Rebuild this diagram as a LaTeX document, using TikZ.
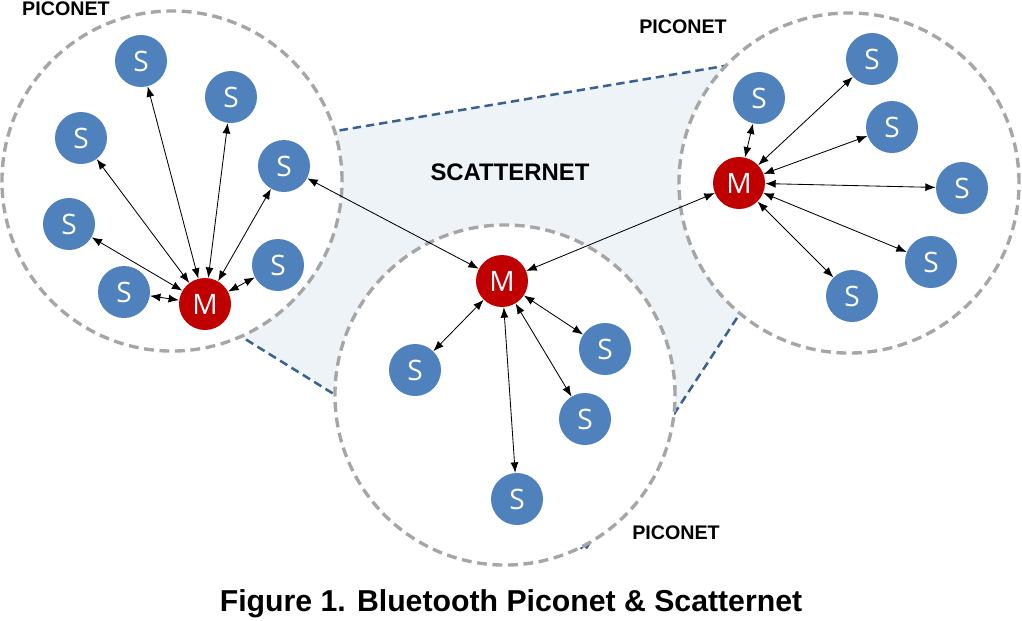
\documentclass[tikz,border=0pt]{standalone}
\usepackage{fontspec}
\setmainfont{Liberation Sans}
\newfontfamily\nodefont{Open Sans}
\usetikzlibrary{arrows.meta}
\definecolor{sblue}{HTML}{4F81BD}
\definecolor{mred}{HTML}{C00000}
\definecolor{ringgray}{HTML}{A6A6A6}
\definecolor{edgeblue}{HTML}{3B6193}
\definecolor{zonefill}{HTML}{EEF3F8}
\tikzset{
  slave/.style={circle,fill=sblue,text=white,minimum size=1.3cm,inner sep=0pt,
                font=\nodefont\fontsize{20}{24}\selectfont},
  master/.style={slave,fill=mred},
  link/.style={{Latex[length=2.6mm,width=2mm]}-{Latex[length=2.6mm,width=2mm]},line width=0.6pt},
  piconet/.style={circle,draw=ringgray,fill=white,line width=2.4pt,
                  dash pattern=on 7pt off 4pt,minimum size=8.5cm},
  zone/.style={draw=edgeblue,fill=zonefill,line width=1.8pt,dash pattern=on 6pt off 3.5pt},
  lbl/.style={font=\bfseries\fontsize{14}{16}\selectfont}
}

\begin{document}
\begin{tikzpicture}[x=0.025cm,y=-0.025cm]
  \useasboundingbox (0,0) rectangle (1022,620);

  % Scatternet area
  \draw[zone] (300,137) -- (760,60) -- (771,266) -- (585,550) -- (192,306) -- cycle;

  \node[piconet] (pleft) at (172,181) {};
  \node[piconet] (pmid) at (505,395) {};
  \node[piconet] (pright) at (849,183) {};

  \node[lbl] (tleft) at (66,9) {PICONET};
  \node[lbl] (tright) at (683,27) {PICONET};
  \node[lbl] (tmid) at (676,533) {PICONET};
  \node[font=\bfseries\fontsize{17}{20}\selectfont] (tscatter) at (510,172) {SCATTERNET};

  % Left piconet
  \node[master] (ml) at (205,304) {M};
  \node[slave] (ls1) at (141,61) {S};
  \node[slave] (ls2) at (231,97) {S};
  \node[slave] (ls3) at (81,138) {S};
  \node[slave] (ls4) at (284,166) {S};
  \node[slave] (ls5) at (69,224) {S};
  \node[slave] (ls6) at (278,265) {S};
  \node[slave] (ls7) at (124,292) {S};

  % Middle piconet
  \node[master] (mm) at (502,281) {M};
  \node[slave] (ms1) at (415,370) {S};
  \node[slave] (ms2) at (605,349) {S};
  \node[slave] (ms3) at (585,419) {S};
  \node[slave] (ms4) at (517,499) {S};

  % Right piconet
  \node[master] (mr) at (739,183) {M};
  \node[slave] (rs1) at (759,98) {S};
  \node[slave] (rs2) at (872,59) {S};
  \node[slave] (rs3) at (892,127) {S};
  \node[slave] (rs4) at (962,188) {S};
  \node[slave] (rs5) at (931,262) {S};
  \node[slave] (rs6) at (852,296) {S};

  \draw[link] (ml) -- (ls1);
  \draw[link] (ml) -- (ls2);
  \draw[link] (ml) -- (ls3);
  \draw[link] (ml) -- (ls4);
  \draw[link] (ml) -- (ls5);
  \draw[link] (ml) -- (ls6);
  \draw[link] (ml) -- (ls7);

  \draw[link] (mm) -- (ms1);
  \draw[link] (mm) -- (ms2);
  \draw[link] (mm) -- (ms3);
  \draw[link] (mm) -- (ms4);

  \draw[link] (mr) -- (rs1);
  \draw[link] (mr) -- (rs2);
  \draw[link] (mr) -- (rs3);
  \draw[link] (mr) -- (rs4);
  \draw[link] (mr) -- (rs5);
  \draw[link] (mr) -- (rs6);

  % Bridges between piconets
  \draw[link] (ls4) -- (mm);
  \draw[link] (mm) -- (mr);

  \node[font=\bfseries\fontsize{21.5}{24}\selectfont] (caption) at (511,604)
    {Figure 1. Bluetooth Piconet \& Scatternet};
\end{tikzpicture}
\end{document}
